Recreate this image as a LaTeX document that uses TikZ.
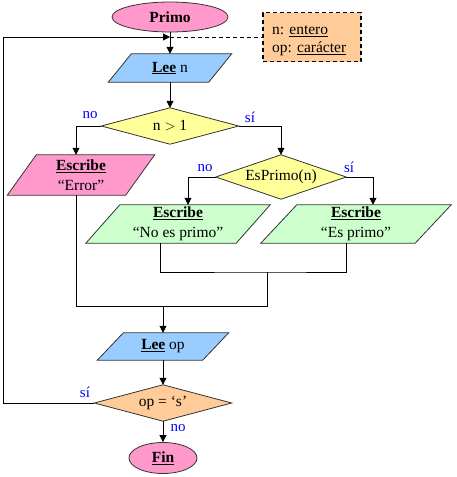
\documentclass[tikz,border=0pt]{standalone}
\usepackage{fontspec}
\setmainfont{Liberation Serif}
\usetikzlibrary{arrows.meta,calc,backgrounds,shapes.geometric}
\definecolor{pinkF}{HTML}{FF99CC}
\definecolor{blueF}{HTML}{99CCFF}
\definecolor{yellowF}{HTML}{FFFF99}
\definecolor{greenF}{HTML}{CCFFCC}
\definecolor{orangeF}{HTML}{FFCC99}
\definecolor{edgeC}{HTML}{333333}
\definecolor{lblC}{HTML}{0000FF}
\tikzset{
  txt/.style={font=\fontsize{15.5}{20}\selectfont, align=center, inner sep=0pt},
  ovalnode/.style={txt, ellipse, draw=edgeC, line width=0.8pt, fill=pinkF},
  boxnode/.style={txt, rectangle},
  lbl/.style={font=\fontsize{15}{18}\selectfont, text=lblC, inner sep=0pt},
  conn/.style={line width=0.8pt, draw=black},
  arr/.style={conn, -{Triangle[length=7pt,width=7pt]}},
  shp/.style={draw=edgeC, line width=0.8pt},
}
\begin{document}
\begin{tikzpicture}[x=1pt,y=-1pt]
\useasboundingbox (0,0) rectangle (457,477);
% terminals
\node[ovalnode, minimum width=116pt, minimum height=30pt] (primo) at (170,17) {\textbf{Primo}};
\node[ovalnode, minimum width=68pt, minimum height=31pt] (fin) at (163,458) {\textbf{\underline{Fin}}};
% declarations box
\node[draw=black, dash pattern=on 4pt off 3pt, line width=1.2pt, fill=orangeF,
      minimum width=98pt, minimum height=49pt, inner sep=0pt] (decl) at (312,37) {};
\node[txt, align=left, anchor=west, font=\fontsize{15.5}{18}\selectfont] (declt) at (272,41)
      {n: \underline{entero}\\op: \underline{carácter}};
% invisible frames for parallelograms and diamonds
\node[boxnode, minimum width=100pt, minimum height=28pt] (leen) at (170,68) {\underline{\textbf{Lee}} n};
\node[boxnode, minimum width=137pt, minimum height=36pt] (c1) at (170,126) {n $>$ 1};
\node[boxnode, minimum width=118pt, minimum height=40pt] (err) at (81,175) {\underline{\textbf{Escribe}}\\“Error”};
\node[boxnode, minimum width=130pt, minimum height=44pt] (c2) at (281,177) {EsPrimo(n)};
\node[boxnode, minimum width=150pt, minimum height=38pt] (nop) at (178,224) {\underline{\textbf{Escribe}}\\“No es primo”};
\node[boxnode, minimum width=154pt, minimum height=38pt] (esp) at (356,224) {\underline{\textbf{Escribe}}\\“Es primo”};
\node[boxnode, minimum width=105pt, minimum height=27pt] (leeop) at (163,346.5) {\underline{\textbf{Lee}} op};
\node[boxnode, minimum width=137pt, minimum height=36pt] (c3) at (163,403) {op = ‘s’};
% shapes on background
\begin{pgfonlayer}{background}
\foreach \n/\s/\c in {leen/11.5/blueF, err/14.5/pinkF, nop/17/greenF, esp/18/greenF, leeop/13/blueF}{
  \filldraw[shp, fill=\c] ($(\n.south west)+(-\s,0)$) -- ($(\n.south east)+(-\s,0)$)
     -- ($(\n.north east)+(\s,0)$) -- ($(\n.north west)+(\s,0)$) -- cycle;
}
\foreach \n/\c in {c1/yellowF, c2/yellowF, c3/orangeF}{
  \filldraw[shp, fill=\c] (\n.west) -- (\n.north) -- (\n.east) -- (\n.south) -- cycle;
}
\end{pgfonlayer}
% junction points
\coordinate (j0) at (170,37);
\coordinate (j1) at (267,272);
\coordinate (j2) at (163,306);
% connectors
\draw[arr] (primo.south) -- (leen.north);
\draw[conn, dash pattern=on 4pt off 3pt] (j0) -- (decl.west);
\draw[arr] (c3.west) -- ++(-91,0) |- (j0);
\draw[arr] (leen.south) -- (c1.north);
\draw[arr] (c1.west) -| ([xshift=-5pt]err.north);
\draw[arr] (c1.east) -| (c2.north);
\draw[arr] (c2.west) -| ([xshift=10pt]nop.north);
\draw[arr] (c2.east) -| ([xshift=17pt]esp.north);
\draw[conn] ([xshift=-18pt]nop.south) |- (j1) -| ([xshift=-10pt]esp.south);
\draw[conn] (j1) |- (j2);
\draw[conn] ([xshift=-5pt]err.south) |- (j2);
\draw[arr] (j2) -- (leeop.north);
\draw[arr] (leeop.south) -- (c3.north);
\draw[arr] (c3.south) -- (fin.north);
% branch labels
\node[lbl] (l1) at (90,115) {no};
\node[lbl] (l2) at (250,117) {sí};
\node[lbl] (l3) at (205,168) {no};
\node[lbl] (l4) at (349,167) {sí};
\node[lbl] (l5) at (85,392) {sí};
\node[lbl] (l6) at (178,428) {no};
\end{tikzpicture}
\end{document}
